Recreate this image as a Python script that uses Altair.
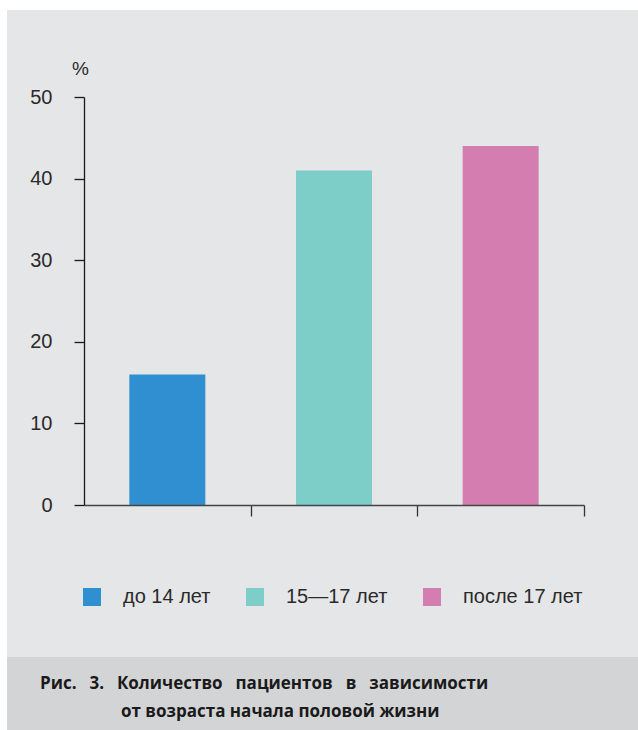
import altair as alt
import pandas as pd

# Age at onset of sexual activity and share of patients (%)
groups = ["до 14 лет", "15—17 лет", "после 17 лет"]
shares = [16, 41, 44]
colors = ["#2f8fd0", "#7dcdc8", "#d47db1"]

y_ticks = [0, 10, 20, 30, 40, 50]

WIDE = "\u2002 "
caption_line1 = WIDE.join(["Рис.", "3.", "Количество", "пациентов", "в", "зависимости"])
caption_line2 = "от возраста начала половой жизни"

df = pd.DataFrame({"group": groups, "share": shares})

FONT = "Liberation Sans"
TEXT_COLOR = "#2a2a2a"
PANEL = "#e5e6e8"
STRIP = "#d3d4d6"

one_row = alt.Data(values=[{}])

# light grey panel behind the chart and darker caption strip
panel = alt.Chart(one_row).mark_rect(color=PANEL).encode(
    x=alt.value(-77), x2=alt.value(554), y=alt.value(-87), y2=alt.value(560)
)
strip = alt.Chart(one_row).mark_rect(color=STRIP).encode(
    x=alt.value(-77), x2=alt.value(554), y=alt.value(560), y2=alt.value(633)
)

bars = alt.Chart(df).mark_bar(size=76).encode(
    x=alt.X(
        "group:N",
        sort=groups,
        scale=alt.Scale(paddingInner=0, paddingOuter=0),
        axis=alt.Axis(
            title=None,
            labels=False,
            tickBand="extent",
            tickSize=11,
            tickColor="#333333",
            tickWidth=1.3,
            tickOpacity={"condition": {"test": "datum.extra", "value": 0}, "value": 1},
            domainColor="#444444",
            domainWidth=1.4,
            grid=False,
            zindex=1,
        ),
    ),
    y=alt.Y(
        "share:Q",
        scale=alt.Scale(domain=[0, 50], nice=False, zero=True),
        axis=alt.Axis(
            values=y_ticks,
            title="%",
            titleAngle=0,
            titleX=-4,
            titleY=-29,
            titleAlign="center",
            titleBaseline="middle",
            titleFont=FONT,
            titleFontSize=19,
            titleFontWeight="normal",
            titleColor=TEXT_COLOR,
            labelFont=FONT,
            labelFontSize=20,
            labelColor=TEXT_COLOR,
            labelPadding=22,
            tickSize=10,
            tickColor="#1a1a1a",
            tickWidth=1.3,
            domainColor="#1a1a1a",
            domainWidth=1.3,
            grid=False,
            zindex=1,
        ),
    ),
    color=alt.Color(
        "group:N",
        scale=alt.Scale(domain=groups, range=colors),
        legend=alt.Legend(
            title=None,
            orient="none",
            legendX=-2,
            legendY=490,
            direction="horizontal",
            symbolType="square",
            symbolSize=324,
            symbolStrokeWidth=0,
            symbolOpacity=1,
            labelFont=FONT,
            labelFontSize=20,
            labelColor=TEXT_COLOR,
            labelOffset=21,
            columnPadding=34,
            padding=0,
        ),
    ),
)

cap1 = alt.Chart(one_row).mark_text(
    text=caption_line1, align="left", baseline="middle",
    font="Open Sans", fontSize=17, fontWeight="bold", color="#1a1a1a",
).encode(x=alt.value(-44), y=alt.value(587))

cap2 = alt.Chart(one_row).mark_text(
    text=caption_line2, align="left", baseline="middle",
    font="Open Sans", fontSize=17, fontWeight="bold", color="#1a1a1a",
).encode(x=alt.value(37), y=alt.value(615))

chart = alt.layer(panel, strip, bars, cap1, cap2).properties(
    width=500,
    height=408,
    autosize=alt.AutoSizeParams(type="none"),
    padding={"left": 84, "top": 97, "right": 54, "bottom": 225},
    background="white",
).configure_view(stroke=None)

chart.save("out.html", embed_options={"renderer": "svg", "actions": False})
